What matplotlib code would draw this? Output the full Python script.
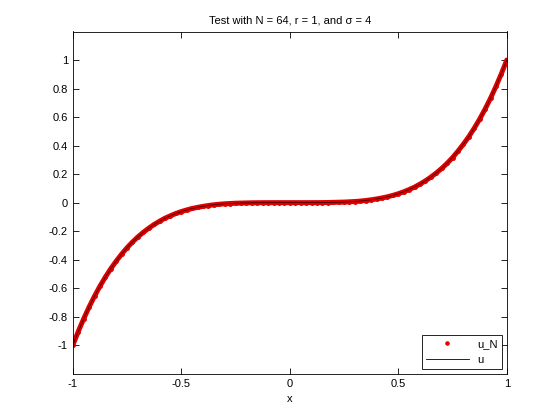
import matplotlib
matplotlib.use("Agg")
import matplotlib.pyplot as plt

# values (curve is odd, very flat near 0)
x_vals = [-1.0, -0.975, -0.95, -0.925, -0.9, -0.875, -0.85, -0.825, -0.8, -0.775,
          -0.75, -0.725, -0.7, -0.675, -0.65, -0.625, -0.6, -0.575, -0.55, -0.525,
          -0.5, -0.475, -0.45, -0.425, -0.4, -0.375, -0.35, -0.325, -0.3, -0.275,
          -0.25, -0.225, -0.2, -0.175, -0.15, -0.125, -0.1, -0.075, -0.05, -0.025,
          0.0, 0.025, 0.05, 0.075, 0.1, 0.125, 0.15, 0.175, 0.2, 0.225,
          0.25, 0.275, 0.3, 0.325, 0.35, 0.375, 0.4, 0.425, 0.45, 0.475,
          0.5, 0.525, 0.55, 0.575, 0.6, 0.625, 0.65, 0.675, 0.7, 0.725,
          0.75, 0.775, 0.8, 0.825, 0.85, 0.875, 0.9, 0.925, 0.95, 0.975, 1.0]
u_vals = [-1.0, -0.904, -0.815, -0.732, -0.656, -0.586, -0.522, -0.463, -0.410, -0.361,
          -0.316, -0.276, -0.240, -0.208, -0.179, -0.153, -0.130, -0.109, -0.092, -0.076,
          -0.0625, -0.051, -0.041, -0.033, -0.026, -0.020, -0.015, -0.011, -0.008, -0.006,
          -0.004, -0.003, -0.002, -0.001, -0.0005, -0.0002, -0.0001, 0.0, 0.0, 0.0,
          0.0, 0.0, 0.0, 0.0, 0.0001, 0.0002, 0.0005, 0.001, 0.002, 0.003,
          0.004, 0.006, 0.008, 0.011, 0.015, 0.020, 0.026, 0.033, 0.041, 0.051,
          0.0625, 0.076, 0.092, 0.109, 0.130, 0.153, 0.179, 0.208, 0.240, 0.276,
          0.316, 0.361, 0.410, 0.463, 0.522, 0.586, 0.656, 0.732, 0.815, 0.904, 1.0]
uN_vals = list(u_vals)

x_ticks = [-1, -0.5, 0, 0.5, 1]
x_ticklabels = ["-1", "-0.5", "0", "0.5", "1"]
y_ticks = [-1, -0.8, -0.6, -0.4, -0.2, 0, 0.2, 0.4, 0.6, 0.8, 1]
y_ticklabels = ["-1", "-0.8", "-0.6", "-0.4", "-0.2", "0", "0.2", "0.4", "0.6", "0.8", "1"]

plt.rcParams["font.family"] = ["Liberation Sans", "DejaVu Sans"]
plt.rcParams["font.size"] = 8

fig = plt.figure(figsize=(5.6, 4.2), dpi=100)
ax = fig.add_axes([0.13, 0.11, 0.775, 0.815])

red = "#e00000"
# dense dots merge into a thick band in the original
ax.plot(x_vals, uN_vals, "-", color=red, linewidth=3.6, solid_capstyle="round")
ax.plot(x_vals, uN_vals, ".", color=red, markersize=5, label="u_N")
ax.plot(x_vals, u_vals, "-", color="#400000", linewidth=0.6, label="u")

ax.set_xlim(-1, 1)
ax.set_ylim(-1.2, 1.2)
ax.set_xticks(x_ticks)
ax.set_xticklabels(x_ticklabels)
ax.set_yticks(y_ticks)
ax.set_yticklabels(y_ticklabels)
ax.tick_params(direction="in", top=True, right=True, length=4, width=0.6, labelsize=8)
for s in ax.spines.values():
    s.set_linewidth(0.6)

ax.set_xlabel("x", fontsize=8)
ax.set_title("Test with N = 64, r = 1, and σ = 4", fontsize=8)

leg = ax.legend(loc="lower right", fontsize=8, fancybox=False, framealpha=1,
                edgecolor="black", handlelength=3.8, markerscale=0.9,
                borderaxespad=0.4)
leg.legend_handles[1].set_color("black")
leg.get_frame().set_linewidth(0.6)

fig.savefig("out.png", dpi=100)
